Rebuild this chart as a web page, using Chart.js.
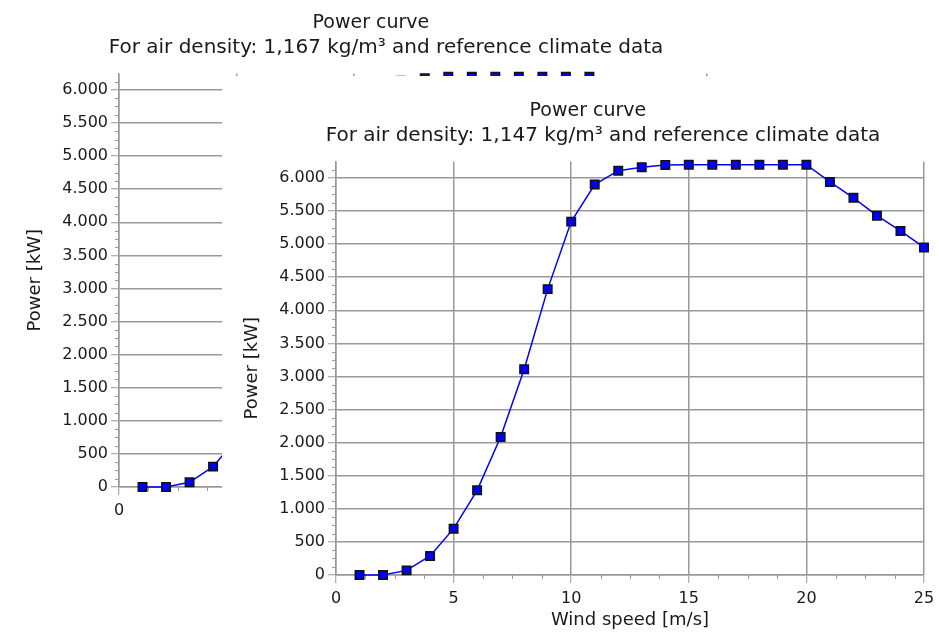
<!DOCTYPE html>
<html>
<head>
<meta charset="utf-8">
<script src="https://cdn.jsdelivr.net/npm/chart.js@4.4.1/dist/chart.umd.min.js"></script>
<style>
  html, body { margin: 0; padding: 0; background: #ffffff; overflow: hidden; width: 939px; height: 641px; position: relative; }
  #bgWrap { position: absolute; left: 5px; top: -12px; width: 746px; height: 565px; }
  #fgWrap { position: absolute; left: 222px; top: 76px; width: 746px; height: 565px; background: #ffffff; }
  canvas { display: block; }
</style>
</head>
<body>
<div id="bgWrap"><canvas id="bgChart" width="746" height="565"></canvas></div>
<div id="fgWrap"><canvas id="fgChart" width="746" height="565"></canvas></div>
<script>
// ---- data ----
const windSpeed = [1, 2, 3, 4, 5, 6, 7, 8, 9, 10, 11, 12, 13, 14, 15, 16, 17, 18, 19, 20, 21, 22, 23, 24, 25];
// air density 1,147 kg/m³ (front chart)
const powerRho1147 = [0, 0, 70, 287, 700, 1280, 2085, 3110, 4320, 5340, 5900, 6110, 6160, 6195, 6200, 6200, 6200, 6200, 6200, 6200, 5940, 5700, 5430, 5200, 4950];
// air density 1,167 kg/m³ (chart behind, mostly hidden)
const powerRho1167 = [0, 0, 71, 308, 730, 1330, 2150, 3200, 4440, 5440, 5940, 6140, 6175, 6200, 6200, 6200, 6200, 6200, 6200, 6200, 5940, 5700, 5430, 5200, 4950];
const yTickValues = [0, 500, 1000, 1500, 2000, 2500, 3000, 3500, 4000, 4500, 5000, 5500, 6000];
const xTickValues = [0, 5, 10, 15, 20, 25];
const titleText = 'Power curve';
const subtitleFront = 'For air density: 1,147 kg/m³ and reference climate data';
const subtitleBack = 'For air density: 1,167 kg/m³ and reference climate data';
const xAxisTitle = 'Wind speed [m/s]';
const yAxisTitle = 'Power [kW]';

// ---- style ----
const FONT = "'DejaVu Sans', Verdana, sans-serif";
const TEXT = '#1a1a1a';
const GRID = '#999999';
const Y_MIN = 0, Y_MAX = 6250, Y_MINOR = 125;
const X_MIN = 0, X_MAX = 25, X_MINOR = 1.25;

function fmtThousands(v) {
  return String(v).replace(/\B(?=(\d{3})+(?!\d))/g, '.');
}

const minorTicksPlugin = {
  id: 'minorTicks',
  beforeDatasetsDraw(chart) {
    const ctx = chart.ctx;
    const xs = chart.scales.x, ys = chart.scales.y;
    ctx.save();
    ctx.strokeStyle = GRID;
    ctx.lineWidth = 1;
    ctx.beginPath();
    for (let v = Y_MIN; v < Y_MAX; v += Y_MINOR) {
      if (yTickValues.includes(v)) continue;
      const py = Math.round(ys.getPixelForValue(v)) + 0.5;
      ctx.moveTo(ys.right - 4, py);
      ctx.lineTo(ys.right, py);
    }
    for (let v = X_MIN; v <= X_MAX; v += X_MINOR) {
      if (xTickValues.includes(v)) continue;
      const px = Math.round(xs.getPixelForValue(v)) + 0.5;
      ctx.moveTo(px, xs.top);
      ctx.lineTo(px, xs.top + 4);
    }
    ctx.stroke();
    ctx.restore();
  }
};

function makeChart(canvasId, values, subtitle) {
  const points = windSpeed.map((w, i) => ({ x: w, y: values[i] }));
  return new Chart(document.getElementById(canvasId), {
    type: 'line',
    data: {
      datasets: [{
        data: points,
        borderColor: '#0000ff',
        borderWidth: 1.5,
        backgroundColor: '#0000ff',
        pointStyle: 'rect',
        pointRadius: 6,
        pointHoverRadius: 6,
        pointBackgroundColor: '#0000ff',
        pointBorderColor: '#111111',
        pointBorderWidth: 1.5,
        tension: 0,
        fill: false,
        clip: false
      }]
    },
    options: {
      responsive: false,
      animation: false,
      events: [],
      layout: { padding: { left: 16, right: 0, top: 20, bottom: 0 } },
      plugins: {
        legend: { display: false },
        tooltip: { enabled: false },
        title: {
          display: true,
          text: titleText + '     ',
          color: TEXT,
          font: { family: FONT, size: 19, weight: 'normal' },
          padding: { top: 4, bottom: 0 }
        },
        subtitle: {
          display: true,
          text: subtitle,
          color: TEXT,
          font: { family: FONT, size: 20, weight: 'normal' },
          padding: { top: 0.7, bottom: 13.9 }
        }
      },
      scales: {
        x: {
          type: 'linear',
          min: X_MIN,
          max: X_MAX,
          afterBuildTicks: (axis) => { axis.ticks = xTickValues.map(v => ({ value: v })); },
          afterFit: (scale) => { scale.height = 66; },
          ticks: {
            autoSkip: false, maxRotation: 0, padding: 6,
            color: TEXT, font: { family: FONT, size: 16 },
            callback: (v) => String(v)
          },
          grid: { color: GRID, lineWidth: 1.5, drawTicks: true, tickLength: 8, tickColor: GRID, tickWidth: 1 },
          border: { display: true, color: GRID, width: 1.5 },
          title: {
            display: true, text: xAxisTitle, color: TEXT,
            font: { family: FONT, size: 18 }, padding: { top: 0, bottom: 10 }
          }
        },
        y: {
          type: 'linear',
          position: 'left',
          min: Y_MIN,
          max: Y_MAX,
          afterBuildTicks: (axis) => { axis.ticks = yTickValues.map(v => ({ value: v })); },
          afterFit: (scale) => { scale.width = 98; },
          ticks: {
            autoSkip: false, padding: 3,
            color: TEXT, font: { family: FONT, size: 16 },
            callback: (v) => fmtThousands(v)
          },
          grid: { color: GRID, lineWidth: 1.5, drawTicks: true, tickLength: 8, tickColor: GRID, tickWidth: 1 },
          border: { display: true, color: GRID, width: 1.5 },
          title: {
            display: true, text: yAxisTitle, color: TEXT,
            font: { family: FONT, size: 18 }, padding: { top: 4, bottom: 4 }
          }
        },
        // empty right-hand margin box, so the title block is centred like the original
        yRight: {
          type: 'linear',
          position: 'right',
          display: true,
          min: Y_MIN,
          max: Y_MAX,
          afterFit: (scale) => { scale.width = 44; },
          ticks: { display: false },
          grid: { display: false, drawTicks: false },
          border: { display: false },
          title: { display: false }
        }
      }
    },
    plugins: [minorTicksPlugin]
  });
}

makeChart('bgChart', powerRho1167, subtitleBack);
makeChart('fgChart', powerRho1147, subtitleFront);
</script>
</body>
</html>
